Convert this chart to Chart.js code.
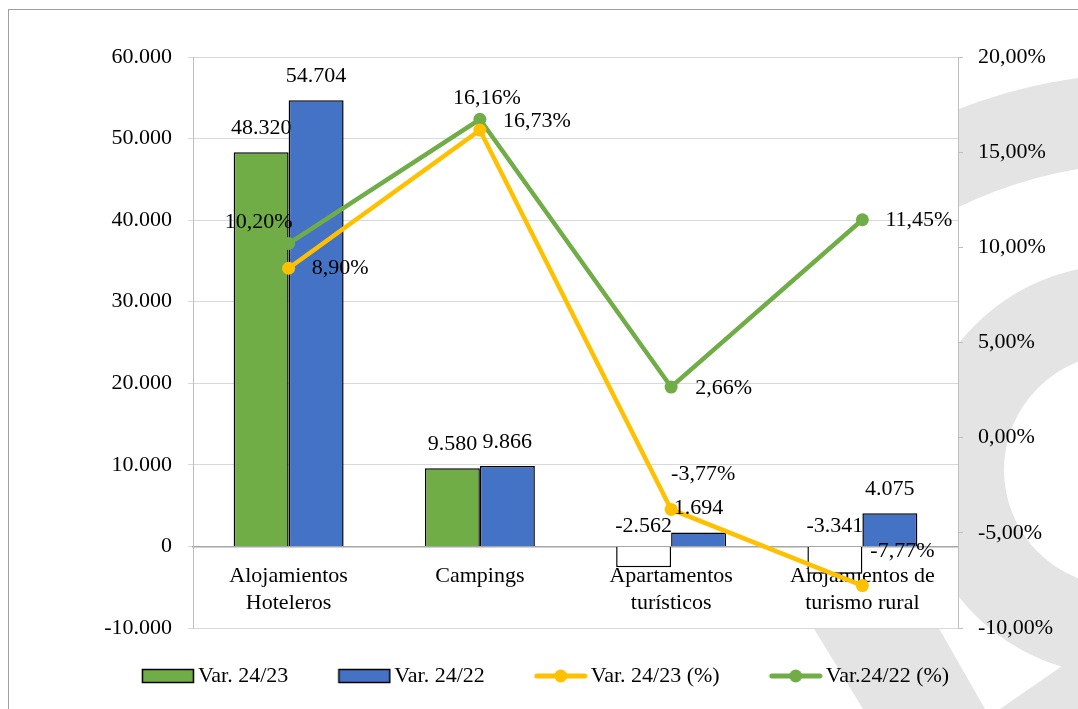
<!DOCTYPE html>
<html lang="es">
<head>
<meta charset="utf-8">
<title>Variación de plazas por tipo de alojamiento</title>
<script src="https://cdn.jsdelivr.net/npm/chart.js@4.4.1/dist/chart.umd.min.js"></script>
<style>
    html, body { margin: 0; padding: 0; background: #fff; }
    #grafico { display: block; }
</style>
</head>
<body>
<canvas id="grafico" width="1078" height="709"></canvas>
<script>
// datos
const categorias = [['Alojamientos', 'Hoteleros'], ['Campings'], ['Apartamentos', 'turísticos'], ['Alojamientos de', 'turismo rural']];
const var2423 = [48320, 9580, -2562, -3341];
const var2422 = [54704, 9866, 1694, 4075];
const pct2423 = [8.90, 16.16, -3.77, -7.77];
const pct2422 = [10.20, 16.73, 2.66, 11.45];
const series = ['Var. 24/23', 'Var. 24/22', 'Var. 24/23 (%)', 'Var.24/22 (%)'];

// colocación de las etiquetas de las líneas (dx, dy, alineación)
const posEtiq2423 = [[23, 0, 'left'], [7, -32, 'center'], [32, -35, 'center'], [40, -34, 'center']];
const posEtiq2422 = [[-30, -21, 'center'], [23, 2, 'left'], [24, 1, 'left'], [23, 0, 'left']];

const VERDE = '#70AD47';
const AZUL = '#4472C4';
const AMARILLO = '#FFC000';
const FUENTE = '"Liberation Serif", "Times New Roman", serif';

function fmtMiles(v) {
    const s = Math.abs(v).toString().replace(/\B(?=(\d{3})+(?!\d))/g, '.');
    return (v < 0 ? '-' : '') + s;
}

function fmtPct(v) {
    return v.toFixed(2).replace('.', ',') + '%';
}

// iconos de la leyenda (el icono va a la derecha del lienzo para dejar hueco entre elementos)
function iconoBarra(color) {
    const c = document.createElement('canvas');
    c.width = 74; c.height = 16;
    const g = c.getContext('2d');
    g.fillStyle = color;
    g.fillRect(21.5, 1.5, 51, 13);
    g.strokeStyle = '#000';
    g.lineWidth = 1.5;
    g.strokeRect(21.5, 1.5, 51, 13);
    return c;
}

function iconoLinea(color) {
    const c = document.createElement('canvas');
    c.width = 74; c.height = 16;
    const g = c.getContext('2d');
    g.strokeStyle = color;
    g.lineWidth = 5;
    g.lineCap = 'round';
    g.beginPath();
    g.moveTo(23, 8); g.lineTo(71, 8);
    g.stroke();
    g.fillStyle = color;
    g.beginPath();
    g.arc(47, 8, 6.5, 0, Math.PI * 2);
    g.fill();
    return c;
}

const rad = d => d * Math.PI / 180;

// fondo: marca de agua gris, área de trazado blanca y marco
const fondo = {
    id: 'fondo',
    beforeDraw(chart) {
        const { ctx, chartArea: a, width, height } = chart;
        ctx.save();
        ctx.fillStyle = '#fff';
        ctx.fillRect(0, 0, width, height);

        ctx.fillStyle = '#e4e4e4';
        ctx.beginPath();
        ctx.arc(1150, 600, 527, rad(195), rad(300));
        ctx.arc(1150, 600, 437, rad(300), rad(195), true);
        ctx.closePath();
        ctx.fill();

        ctx.beginPath();
        ctx.arc(1120, 470, 205, 0, Math.PI * 2);
        ctx.arc(1120, 470, 116, 0, Math.PI * 2, true);
        ctx.fill();

        ctx.beginPath();
        ctx.moveTo(772, 560); ctx.lineTo(900, 560);
        ctx.lineTo(985, 709); ctx.lineTo(863, 709);
        ctx.closePath();
        ctx.fill();

        ctx.beginPath();
        ctx.moveTo(1000, 709); ctx.lineTo(1078, 655); ctx.lineTo(1078, 709);
        ctx.closePath();
        ctx.fill();

        ctx.fillStyle = '#fff';
        ctx.fillRect(a.left, a.top, a.right - a.left, a.bottom - a.top);

        ctx.strokeStyle = '#a0a0a0';
        ctx.lineWidth = 1;
        ctx.strokeRect(8.5, 9.5, width + 20, height + 20);
        ctx.restore();
    }
};

// etiquetas de valores
const etiquetas = {
    id: 'etiquetas',
    afterDatasetsDraw(chart) {
        const ctx = chart.ctx;
        const cero = chart.scales.y.getPixelForValue(0);
        ctx.save();
        ctx.font = '22px ' + FUENTE;
        ctx.fillStyle = '#000';
        ctx.textBaseline = 'middle';
        chart.data.datasets.forEach((ds, i) => {
            const meta = chart.getDatasetMeta(i);
            meta.data.forEach((el, j) => {
                const v = ds.data[j];
                if (ds.type === 'bar') {
                    ctx.textAlign = 'center';
                    const y = v >= 0 ? el.y - 24 : cero - 20;
                    ctx.fillText(fmtMiles(v), el.x, y);
                } else {
                    const p = ds.posEtiq[j];
                    ctx.textAlign = p[2];
                    ctx.fillText(fmtPct(v), el.x + p[0], el.y + p[1]);
                }
            });
        });
        ctx.restore();
    }
};

Chart.defaults.font.family = FUENTE;
Chart.defaults.font.size = 22;
Chart.defaults.color = '#000';

new Chart(document.getElementById('grafico'), {
    type: 'bar',
    data: {
        labels: categorias,
        datasets: [
            {
                type: 'bar',
                label: series[0],
                data: var2423,
                backgroundColor: var2423.map(v => v < 0 ? '#ffffff' : VERDE),
                borderColor: '#000',
                borderWidth: 1.5,
                yAxisID: 'y',
                order: 2,
                icono: iconoBarra(VERDE)
            },
            {
                type: 'bar',
                label: series[1],
                data: var2422,
                backgroundColor: AZUL,
                borderColor: '#000',
                borderWidth: 1.5,
                yAxisID: 'y',
                order: 3,
                icono: iconoBarra(AZUL)
            },
            {
                type: 'line',
                label: series[2],
                data: pct2423,
                borderColor: AMARILLO,
                backgroundColor: AMARILLO,
                borderWidth: 4.5,
                pointRadius: 6.5,
                pointBorderWidth: 0,
                pointBackgroundColor: AMARILLO,
                tension: 0,
                yAxisID: 'y1',
                order: 0,
                posEtiq: posEtiq2423,
                icono: iconoLinea(AMARILLO)
            },
            {
                type: 'line',
                label: series[3],
                data: pct2422,
                borderColor: VERDE,
                backgroundColor: VERDE,
                borderWidth: 4.5,
                pointRadius: 6.5,
                pointBorderWidth: 0,
                pointBackgroundColor: VERDE,
                tension: 0,
                yAxisID: 'y1',
                order: 1,
                posEtiq: posEtiq2422,
                icono: iconoLinea(VERDE)
            }
        ]
    },
    options: {
        responsive: false,
        animation: false,
        devicePixelRatio: 1,
        layout: { padding: { left: 0, right: 0, top: 57, bottom: 12 } },
        datasets: {
            bar: { categoryPercentage: 0.575, barPercentage: 1.0 }
        },
        scales: {
            x: {
                position: { y: 0 },
                offset: true,
                grid: { display: false, drawTicks: false },
                border: { display: true, color: '#a6a6a6', width: 1.5 },
                ticks: { padding: 17, maxRotation: 0, autoSkip: false }
            },
            y: {
                position: 'left',
                min: -10000,
                max: 60000,
                afterFit: s => { s.width = 193; },
                ticks: { stepSize: 10000, padding: 16, callback: v => fmtMiles(v) },
                grid: { color: '#d9d9d9', tickLength: 5 },
                border: { color: '#bfbfbf' }
            },
            y1: {
                position: 'right',
                min: -10,
                max: 20,
                afterFit: s => { s.width = 120; },
                ticks: { stepSize: 5, padding: 15, callback: v => fmtPct(v) },
                grid: { drawOnChartArea: false, color: '#bfbfbf', tickLength: 5 },
                border: { color: '#bfbfbf' }
            }
        },
        plugins: {
            tooltip: { enabled: false },
            legend: {
                position: 'bottom',
                labels: {
                    usePointStyle: true,
                    pointStyleWidth: 58,
                    padding: 37,
                    sort: (a, b) => a.datasetIndex - b.datasetIndex,
                    generateLabels(chart) {
                        return chart.data.datasets.map((ds, i) => ({
                            text: ds.label,
                            pointStyle: ds.icono,
                            fillStyle: 'transparent',
                            strokeStyle: 'transparent',
                            lineWidth: 0,
                            fontColor: '#000',
                            hidden: false,
                            datasetIndex: i
                        }));
                    }
                }
            }
        }
    },
    plugins: [fondo, etiquetas]
});
</script>
</body>
</html>
